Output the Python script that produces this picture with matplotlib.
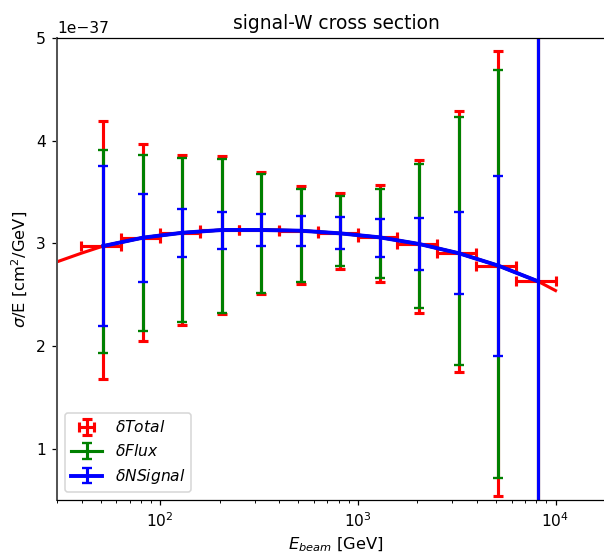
import numpy as np
import matplotlib
matplotlib.use("Agg")
import matplotlib.pyplot as plt
from matplotlib.ticker import MultipleLocator

# bin edges (GeV) and centres
bin_lo = [39.8, 63.1, 100.0, 158.5, 251.2, 398.1, 631.0, 1000.0, 1584.9, 2511.9, 3981.1, 6309.6]
bin_hi = [63.1, 100.0, 158.5, 251.2, 398.1, 631.0, 1000.0, 1584.9, 2511.9, 3981.1, 6309.6, 10000.0]
energy = [51.45, 81.55, 129.25, 204.85, 324.65, 514.55, 815.5, 1292.45, 2048.4, 3246.5, 5145.35, 8154.8]

# central values (units of 1e-37 cm^2/GeV)
sigma = [2.974, 3.055, 3.103, 3.13, 3.13, 3.123, 3.097, 3.058, 2.993, 2.903, 2.782, 2.63]

total_hi = [4.188, 3.967, 3.863, 3.85, 3.694, 3.558, 3.487, 3.565, 3.808, 4.288, 4.875, 7.0]
total_lo = [1.676, 2.052, 2.204, 2.315, 2.509, 2.607, 2.75, 2.626, 2.321, 1.744, 0.54, -1.5]
flux_hi = [3.906, 3.863, 3.828, 3.824, 3.678, 3.532, 3.461, 3.532, 3.775, 4.233, 4.687, 6.5]
flux_lo = [1.932, 2.146, 2.231, 2.324, 2.519, 2.623, 2.779, 2.662, 2.37, 1.815, 0.715, -1.0]
nsig_hi = [3.756, 3.483, 3.337, 3.305, 3.282, 3.266, 3.253, 3.24, 3.246, 3.308, 3.658, 6.0]
nsig_lo = [2.195, 2.623, 2.867, 2.947, 2.977, 2.974, 2.942, 2.87, 2.743, 2.503, 1.903, -0.5]

# model curve
curve_e = [30, 40, 51.45, 81.55, 129.25, 204.85, 324.65, 514.55, 815.5, 1292.45, 2048.4, 3246.5, 5145.35, 8154.8, 10000]
curve_s = [2.82, 2.905, 2.974, 3.055, 3.103, 3.13, 3.133, 3.123, 3.097, 3.058, 2.993, 2.903, 2.782, 2.63, 2.54]

scale = 1e-37

fig = plt.figure(figsize=(604/112, 554/112), dpi=112)
ax = fig.add_axes([57/604, 54/554, 558/604, 462/554])

e = np.array(energy)
s = np.array(sigma) * scale
xerr = [e - np.array(bin_lo), np.array(bin_hi) - e]

def yerr(lo, hi):
    return [s - np.array(lo) * scale, np.array(hi) * scale - s]

ax.plot(np.array(curve_e), np.array(curve_s) * scale, color='red', lw=2)
ax.errorbar(e, s, xerr=xerr, yerr=yerr(total_lo, total_hi), fmt='none', ecolor='red',
            elinewidth=2, capsize=3, capthick=2, label=r'$\delta Total$')
ax.errorbar(e, s, yerr=yerr(flux_lo, flux_hi), fmt='-', color='green',
            elinewidth=2, lw=2, capsize=3, capthick=1.5, label=r'$\delta Flux$')
ax.errorbar(e, s, yerr=yerr(nsig_lo, nsig_hi), fmt='-', color='blue',
            elinewidth=2, lw=2.5, capsize=3, capthick=1.5, label=r'$\delta NSignal$')

ax.set_xscale('log')
ax.set_xlim(30, 20000)
ax.set_ylim(0.5e-37, 5e-37)
ax.yaxis.set_major_locator(MultipleLocator(1e-37))
ax.tick_params(labelsize=10)
ax.set_title('signal-W cross section', fontsize=12)
ax.set_xlabel(r'$E_{beam}$ [GeV]', fontsize=10.5)
ax.set_ylabel(r'$\sigma$/E [cm$^2$/GeV]', fontsize=10.5)
ax.yaxis.get_offset_text().set_fontsize(10)
ax.spines['right'].set_visible(False)
ax.spines['left'].set_color('#555555')
ax.spines['left'].set_linewidth(1.3)
ax.legend(loc='lower left', fontsize=10)

fig.savefig('out.png', dpi=112)
